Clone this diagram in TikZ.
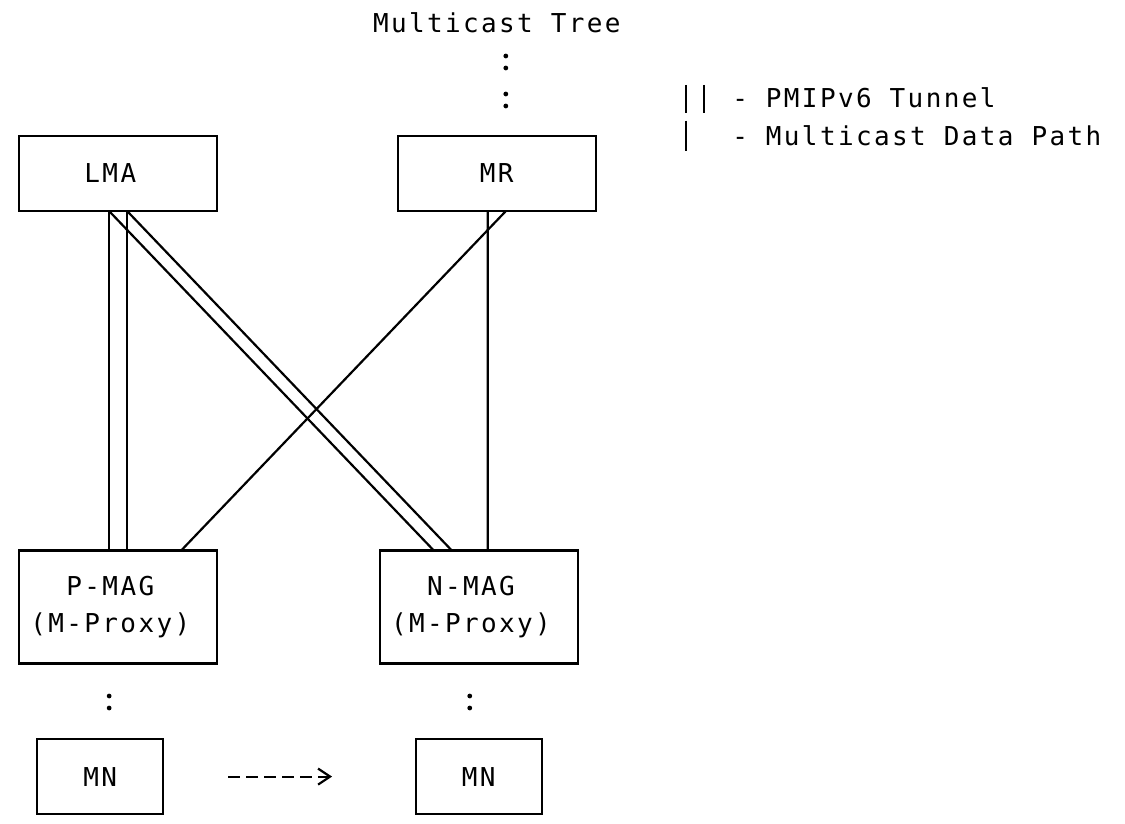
\documentclass[tikz,border=0pt]{standalone}
\usepackage{fontspec}
\usetikzlibrary{arrows.meta}
\newfontfamily\diagfont[LetterSpace=9.1]{DejaVu Sans Mono}
\newcommand\diagtext{\diagfont\fontsize{13pt}{18.85pt}\selectfont}
\def\colw{9.015pt}
\def\rowh{18.85pt}
\begin{document}
\begin{tikzpicture}[x=9.015pt, y=-18.85pt, line width=1.1pt,
  box/.style 2 args={draw, rectangle, inner sep=0pt, outer sep=0pt, font=\diagtext,
    minimum width=#1*\colw, minimum height=#2*\rowh, text height=9.48pt, text depth=0pt},
  magbox/.style={draw, rectangle, inner sep=0pt, outer sep=0pt, font=\diagtext, align=center,
    minimum width=11*\colw, minimum height=3*\rowh},
  lbl/.style={inner sep=0pt, font=\diagtext, text height=9.48pt, text depth=0pt},
  dotpath/.style={line width=2.4pt, line cap=round, dash pattern=on 0pt off 6pt on 0pt off 13pt},
  move/.style={dash pattern=on 6pt off 3.015pt, -{Straight Barb[length=6pt,width=8pt]}}]
  \useasboundingbox (-1.0538,-0.5995) rectangle (61.342,21.257);
  \fill[white] (-1.0538,-0.5995) rectangle (61.342,21.257);
  \node[lbl] (tree) at (26.5,0) {Multicast Tree};
  \node[box={11}{2}] (lma) at (5.5,4) {LMA\hphantom{M}};
  \node[box={11}{2}] (mr) at (26.5,4) {MR};
  \node[magbox] (pmag) at (5.5,15.5) {P-MAG\hphantom{M}\\(M-Proxy)\hphantom{M}};
  \node[magbox] (nmag) at (25.5,15.5) {N-MAG\hphantom{M}\\(M-Proxy)\hphantom{M}};
  \node[box={7}{2}] (mnold) at (4.5,20) {MN};
  \node[box={7}{2}] (mnnew) at (25.5,20) {MN};
  \node[lbl, anchor=west] (tunkey) at (39.5,2) {- PMIPv6 Tunnel};
  \node[lbl, anchor=west] (datakey) at (39.5,3) {- Multicast Data Path};
  % legend keys
  \foreach \c in {37,38} \draw (\c,1.65) -- (\c,2.4);
  \draw (37,2.6) -- (37,3.4);
  % tunnels
  \foreach \s in {-0.5,0.5} {
    \draw ([xshift=\s*\colw]lma.south) -- ([xshift=\s*\colw]pmag.north);
    \draw ([xshift=\s*\colw]lma.south) -- ([xshift=(\s-2)*\colw]nmag.north);
  }
  % data paths
  \draw ([xshift=0.5*\colw]mr.south) -- ([xshift=3.5*\colw]pmag.north);
  \draw ([xshift=-0.5*\colw]mr.south) -- ([xshift=0.5*\colw]nmag.north);
  \draw[dotpath, shorten <=11.4pt, shorten >=14pt] ([xshift=0.5*\colw]tree.south) -- ([xshift=0.5*\colw]mr.north);
  \draw[dotpath, shorten <=16.25pt, shorten >=14.5pt] ([xshift=-0.5*\colw]pmag.south) -- ([xshift=0.5*\colw]mnold.north);
  \draw[dotpath, shorten <=16.25pt, shorten >=14.5pt] ([xshift=-0.5*\colw]nmag.south) -- ([xshift=-0.5*\colw]mnnew.north);
  \draw[move, shorten <=32.4pt, shorten >=41.8pt] (mnold) -- (mnnew);
\end{tikzpicture}
\end{document}
